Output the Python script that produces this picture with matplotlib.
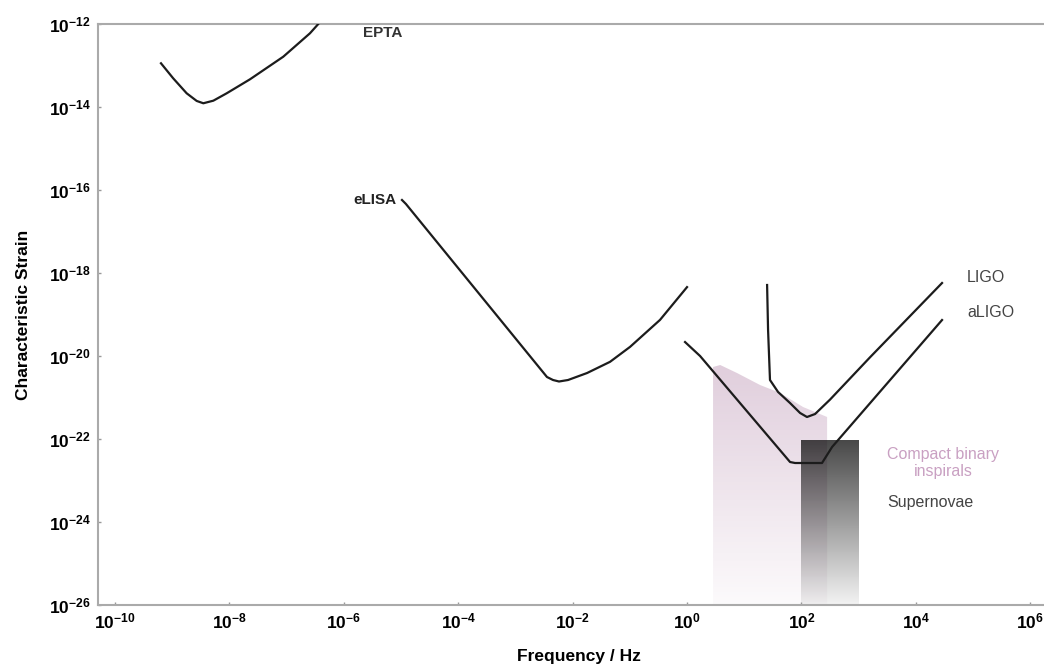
import numpy as np
import matplotlib
matplotlib.use("Agg")
import matplotlib.pyplot as plt
from matplotlib.patches import Polygon

plt.rcParams['font.family'] = ['Liberation Sans', 'DejaVu Sans']

# detector sensitivity curves (frequency in Hz, characteristic strain)
epta_f = [6.37e-10, 1.04e-9, 1.79e-9, 2.68e-9, 3.50e-9, 5.24e-9, 8.97e-9, 2.29e-8, 8.75e-8, 2.56e-7, 3.58e-7]
epta_h = [1.13e-13, 4.92e-14, 2.14e-14, 1.40e-14, 1.23e-14, 1.42e-14, 2.14e-14, 4.65e-14, 1.63e-13, 5.97e-13, 1.0e-12]

elisa_f = [1.04e-5, 1.22e-5, 3.56e-3, 4.54e-3, 5.78e-3, 8.32e-3, 1.79e-2, 4.51e-2, 0.101, 0.337, 1.0]
elisa_h = [5.74e-17, 4.60e-17, 3.12e-21, 2.64e-21, 2.43e-21, 2.64e-21, 3.89e-21, 7.24e-21, 1.66e-20, 7.41e-20, 4.57e-19]

ligo_f = [25.1, 26.1, 28.2, 39.0, 63.2, 94.6, 125, 173, 316, 1580, 2.87e4]
ligo_h = [5.14e-19, 4.24e-20, 2.64e-21, 1.36e-21, 7.36e-22, 4.24e-22, 3.39e-22, 4.0e-22, 8.9e-22, 9.3e-21, 5.74e-19]

aligo_f = [0.923, 1.69, 63.2, 77.3, 229, 343, 2.87e4]
aligo_h = [2.17e-20, 1.0e-20, 2.79e-23, 2.64e-23, 2.64e-23, 6.41e-23, 7.36e-20]

# source regions
cbc_f = [2.85, 3.80, 7.48, 18.9, 42.3, 107, 281]
cbc_h = [5.43e-21, 6.07e-21, 3.89e-21, 2.0e-21, 1.29e-21, 5.89e-22, 3.39e-22]

sn_f = [1e2, 1e3]
sn_h = 9e-23

xlim = (10**-10.304, 10**6.52)
ylim = (1e-26, 1e-12)

fig = plt.figure(figsize=(10.44, 6.66), dpi=100)
ax = fig.add_axes([97.6/1044, 1-605/666, (1060-97.6)/1044, 581/666])
ax.set_xscale('log')
ax.set_yscale('log')
ax.set_xlim(xlim)
ax.set_ylim(ylim)


def to_axes(x, y):
    return ax.transAxes.inverted().transform(ax.transData.transform((x, y)))


def gradient(x0, x1, y0, y1, rgb, a_top, a_bot, clip=None):
    g = np.zeros((256, 1, 4))
    g[:, :, :3] = rgb
    g[:, 0, 3] = np.linspace(a_top, a_bot, 256)
    im = ax.imshow(g, extent=[x0, x1, y0, y1], transform=ax.transAxes,
                   aspect='auto', origin='upper', interpolation='bilinear', zorder=1)
    if clip is not None:
        im.set_clip_path(clip)
    return im


# compact binary inspirals: pink fade
verts = list(zip(cbc_f, cbc_h)) + [(cbc_f[-1], ylim[0]), (cbc_f[0], ylim[0])]
poly = Polygon(verts, closed=True, facecolor='none', edgecolor='none', transform=ax.transData)
ax.add_patch(poly)
a0 = to_axes(cbc_f[0], max(cbc_h))
a1 = to_axes(cbc_f[-1], ylim[0])
gradient(a0[0], a1[0], 0, a0[1], (0.70, 0.52, 0.66), 0.40, 0.04, clip=poly)

# supernovae: gray fade
b0 = to_axes(sn_f[0], sn_h)
b1 = to_axes(sn_f[1], ylim[0])
gradient(b0[0], b1[0], 0, b0[1], (0.0, 0.0, 0.0), 0.72, 0.05)

ax.set_xlim(xlim)
ax.set_ylim(ylim)

lc = '#1c1c1c'
ax.plot(epta_f, epta_h, color=lc, lw=1.6, zorder=3)
ax.plot(elisa_f, elisa_h, color=lc, lw=1.6, zorder=3)
ax.plot(ligo_f, ligo_h, color=lc, lw=1.6, zorder=3)
ax.plot(aligo_f, aligo_h, color=lc, lw=1.6, zorder=3)

ax.text(2.17e-6, 6.07e-13, 'EPTA', fontsize=11, fontweight='bold', color='#333333', va='center')
ax.text(8.5e-6, 5.75e-17, 'eLISA', fontsize=11, fontweight='bold', color='#222222', va='center', ha='right')
ax.text(7.85e4, 8.0e-19, 'LIGO', fontsize=11.5, color='#444444', va='center')
ax.text(7.85e4, 1.09e-19, 'aLIGO', fontsize=11.5, color='#444444', va='center')
ax.text(2.99e4, 2.64e-23, 'Compact binary\ninspirals', fontsize=11.5, color='#c9a0c2',
        ha='center', va='center', linespacing=1.2)
ax.text(3.14e3, 2.88e-24, 'Supernovae', fontsize=11.5, color='#444444', va='center')

ax.set_xticks([10.0**k for k in range(-10, 7, 2)])
ax.set_yticks([10.0**k for k in range(-26, -11, 2)])
ax.minorticks_off()
ax.tick_params(direction='in', length=2, width=1, color='#999999', labelsize=12.5,
               pad=5)
for lab in ax.get_xticklabels() + ax.get_yticklabels():
    lab.set_fontweight('bold')

for s in ax.spines.values():
    s.set_color('#aaaaaa')
    s.set_linewidth(1.5)

ax.set_xlabel('Frequency / Hz', fontsize=12.5, fontweight='bold', labelpad=12)
ax.set_ylabel('Characteristic Strain', fontsize=12.5, fontweight='bold', labelpad=13)

fig.savefig('out.png', dpi=100)
